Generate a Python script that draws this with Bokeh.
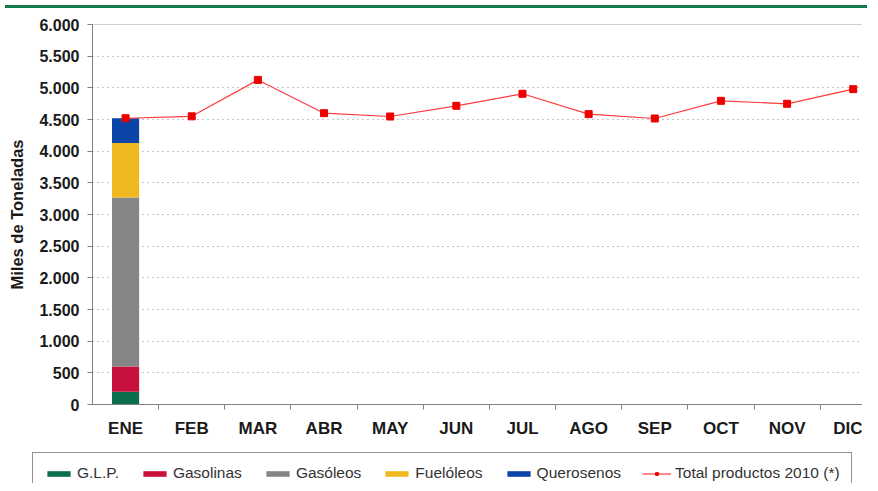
from bokeh.plotting import figure
from bokeh.models import (ColumnDataSource, Range1d, FixedTicker, Span, Div, Legend, Plot)
from bokeh.layouts import column
from bokeh.embed import file_html
from bokeh.resources import INLINE

months = ["ENE", "FEB", "MAR", "ABR", "MAY", "JUN", "JUL", "AGO", "SEP", "OCT", "NOV", "DIC"]
total_2010 = [4520, 4550, 5125, 4600, 4547, 4716, 4906, 4585, 4516, 4795, 4748, 4979]

bar_months = ["ENE"]
glp = [200]
gasolinas = [400]
gasoleos = [2670]
fueloleos = [860]
querosenos = [390]

series_names = ["G.L.P.", "Gasolinas", "Gasóleos", "Fuelóleos", "Querosenos"]
series_keys = ["glp", "gasolinas", "gasoleos", "fueloleos", "querosenos"]
series_colors = ["#0b6e4c", "#c8103c", "#858585", "#f0b820", "#0a44a6"]
line_name = "Total productos 2010 (*)"
line_color = "#ff3b3b"
marker_color = "#ee0000"

y_ticks = [0, 500, 1000, 1500, 2000, 2500, 3000, 3500, 4000, 4500, 5000, 5500, 6000]
y_tick_labels = ["0", "500", "1.000", "1.500", "2.000", "2.500", "3.000", "3.500",
                 "4.000", "4.500", "5.000", "5.500", "6.000"]

FONT = "Liberation Sans"
W = 862
HAS_FRAME_ALIGN = "frame_align" in Plot.properties()

p = figure(width=W, height=439, output_backend="svg", toolbar_location=None,
           x_range=Range1d(-0.5, 11.14), y_range=Range1d(0, 6000),
           min_border_left=92, min_border_right=0, min_border_top=11, min_border_bottom=48)
p.outline_line_color = None
p.background_fill_color = "white"
p.border_fill_color = "white"

bar_src = ColumnDataSource(dict(
    x=[months.index(m) for m in bar_months],
    glp=glp, gasolinas=gasolinas, gasoleos=gasoleos,
    fueloleos=fueloleos, querosenos=querosenos))
p.vbar_stack(series_keys, x="x", width=0.41, source=bar_src, color=series_colors,
             line_color=None)

line_src = ColumnDataSource(dict(x=list(range(len(months))), y=total_2010))
p.line("x", "y", source=line_src, line_color=line_color, line_width=1.2)
p.scatter("x", "y", source=line_src, marker="square", size=7, fill_color=marker_color,
          line_color=marker_color)

# grid
p.xgrid.visible = False
p.ygrid.ticker = FixedTicker(ticks=y_ticks)
p.ygrid.grid_line_color = "#8a8a8a"
p.ygrid.grid_line_dash = "1 4"
p.ygrid.grid_line_width = 1.2
p.add_layout(Span(location=y_ticks[-1], dimension="width", line_color="#444444",
                  line_dash="1 1", line_width=1))

# y axis
ya = p.yaxis[0]
ya.ticker = FixedTicker(ticks=y_ticks)
ya.major_label_overrides = {t: l for t, l in zip(y_ticks, y_tick_labels)}
ya.major_label_text_font = FONT
ya.major_label_text_font_style = "bold"
ya.major_label_text_font_size = "16px"
ya.major_label_text_color = "#1a1a1a"
ya.major_label_standoff = 8
ya.major_tick_out = 5
ya.major_tick_in = 0
ya.minor_tick_line_color = None
ya.axis_line_color = "#808080"
ya.major_tick_line_color = "#808080"
ya.axis_label = "Miles de Toneladas"
ya.axis_label_text_font = FONT
ya.axis_label_text_font_style = "bold"
ya.axis_label_text_font_size = "16.5px"
ya.axis_label_text_color = "#1a1a1a"
ya.axis_label_standoff = 10

# x axis
xa = p.xaxis[0]
xa.ticker = FixedTicker(ticks=list(range(len(months))),
                        minor_ticks=[i + 0.5 for i in range(len(months))])
xa.major_label_overrides = {i: m for i, m in enumerate(months)}
xa.major_label_text_font = FONT
xa.major_label_text_font_style = "bold"
xa.major_label_text_font_size = "17px"
xa.major_label_text_color = "#1a1a1a"
xa.major_tick_line_color = None
xa.major_tick_out = 5
xa.major_label_standoff = 9
xa.minor_tick_out = 5
xa.minor_tick_in = 0
xa.minor_tick_line_color = "#808080"
xa.axis_line_color = "#808080"

# legend strip (a separate small figure holding only the legend)
q = figure(width=W, height=31, output_backend="svg", toolbar_location=None,
           x_range=Range1d(0, 1), y_range=Range1d(0, 1),
           min_border_left=0, min_border_right=0, min_border_top=0, min_border_bottom=0)
q.axis.visible = False
q.grid.visible = False
q.outline_line_color = None
q.background_fill_color = "white"
q.border_fill_color = "white"
if HAS_FRAME_ALIGN:
    q.frame_align = False
    p.frame_align = False

# proxy renderers for the legend swatches (their single point lies outside the view)
proxy = ColumnDataSource(dict(x=[-10], y=[-10], top=[-10]))
items = []
for name, color in zip(series_names, series_colors):
    r = q.vbar(x="x", top="top", width=0.5, source=proxy, fill_color=color, line_color=None)
    items.append((name, [r]))
rl = q.line("x", "y", source=proxy, line_color=line_color, line_width=1.2)
rs = q.scatter("x", "y", source=proxy, marker="square", size=6, fill_color=marker_color,
               line_color=marker_color)
items.append((line_name, [rl, rs]))

lg = Legend(items=items, location=(32, -11), orientation="horizontal")
lg.border_line_color = "#222222"
lg.border_line_width = 1
lg.background_fill_color = "white"
lg.background_fill_alpha = 1
lg.padding = 11
lg.margin = 0
lg.spacing = 21
lg.label_standoff = 4
lg.glyph_width = 29
lg.glyph_height = 7
lg.label_height = 18
lg.label_text_font = FONT
lg.label_text_font_size = "15.5px"
lg.label_text_color = "#333333"
q.add_layout(lg, "center")

bar = Div(width=W, height=3, styles={"background-color": "#127a4c"})

layout = column(bar, p, q)
open("out.html", "w").write(file_html(layout, INLINE))
